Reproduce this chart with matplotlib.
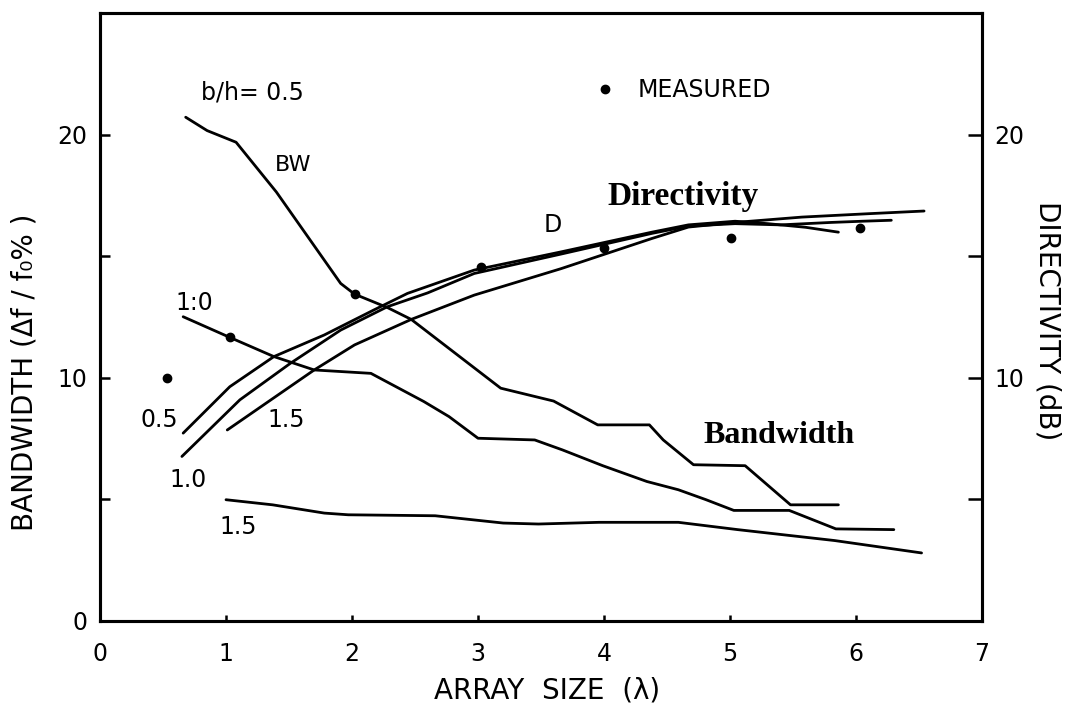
import matplotlib
matplotlib.use("Agg")
import matplotlib.pyplot as plt
from matplotlib.lines import Line2D

# ---- data ----
# Bandwidth (%) vs array size (wavelengths), b/h = 0.5, 1.0, 1.5
bw05_x = [0.68, 0.85, 1.08, 1.40, 1.91, 2.02, 2.28, 2.47, 3.18, 3.60, 3.95, 4.36, 4.47, 4.71, 5.12, 5.48, 5.86]
bw05_y = [20.73, 20.18, 19.70, 17.65, 13.89, 13.45, 12.90, 12.41, 9.58, 9.05, 8.07, 8.07, 7.45, 6.43, 6.39, 4.78, 4.78]

bw10_x = [0.66, 1.03, 1.38, 1.70, 2.15, 2.57, 2.77, 3.00, 3.45, 3.67, 3.99, 4.34, 4.59, 4.81, 5.03, 5.47, 5.84, 6.30]
bw10_y = [12.52, 11.67, 10.88, 10.33, 10.19, 9.03, 8.41, 7.52, 7.45, 7.04, 6.39, 5.74, 5.40, 4.99, 4.55, 4.55, 3.79, 3.76]

bw15_x = [1.00, 1.37, 1.78, 1.97, 2.66, 3.20, 3.48, 3.96, 4.59, 5.06, 5.83, 6.52]
bw15_y = [4.99, 4.78, 4.44, 4.37, 4.33, 4.03, 3.99, 4.06, 4.06, 3.76, 3.31, 2.80]

# Directivity (dB) vs array size, b/h = 0.5, 1.0, 1.5
d05_x = [0.66, 1.03, 1.38, 1.78, 2.17, 2.44, 2.97, 3.66, 4.38, 4.67, 5.04, 5.30, 5.60, 5.86]
d05_y = [7.73, 9.64, 10.88, 11.77, 12.79, 13.48, 14.44, 15.19, 16.00, 16.30, 16.45, 16.35, 16.20, 16.00]

d10_x = [0.65, 1.11, 1.51, 1.91, 2.28, 2.60, 2.97, 3.66, 4.38, 4.67, 5.04, 5.40, 5.80, 6.05, 6.28]
d10_y = [6.77, 9.10, 10.60, 11.97, 12.93, 13.50, 14.30, 15.10, 15.95, 16.25, 16.35, 16.30, 16.40, 16.45, 16.49]

d15_x = [1.01, 1.70, 2.02, 2.47, 2.97, 3.66, 4.38, 4.67, 5.04, 5.57, 6.10, 6.54]
d15_y = [7.86, 10.33, 11.36, 12.41, 13.41, 14.50, 15.74, 16.21, 16.40, 16.62, 16.76, 16.87]

# Measured points
meas_x = [0.53, 1.03, 2.02, 3.02, 4.00, 5.01, 6.03]
meas_y = [10.00, 11.67, 13.45, 14.57, 15.35, 15.74, 16.19]

x_ticks = [0, 1, 2, 3, 4, 5, 6, 7]
x_ticklabels = ["0", "1", "2", "3", "4", "5", "6", "7"]
yl_ticks = [0, 5, 10, 15, 20]
yl_ticklabels = ["0", "", "10", "", "20"]
yr_ticks = [5, 10, 15, 20]
yr_ticklabels = ["", "10", "", "20"]

# ---- figure ----
plt.rcParams["font.family"] = ["DejaVu Sans"]
fig = plt.figure(figsize=(10.65, 7.08), dpi=100)
ax = fig.add_axes([0.0939, 0.1229, 0.8282, 0.8581])
ax2 = ax.twinx()

lw = 2.0
for xs, ys in [(bw05_x, bw05_y), (bw10_x, bw10_y), (bw15_x, bw15_y)]:
    ax.plot(xs, ys, color="black", lw=lw, solid_joinstyle="round", solid_capstyle="round")
for xs, ys in [(d05_x, d05_y), (d10_x, d10_y), (d15_x, d15_y)]:
    ax2.plot(xs, ys, color="black", lw=lw, solid_joinstyle="round", solid_capstyle="round")
ax2.plot(meas_x, meas_y, "o", color="black", ms=6, ls="none")

for a in (ax, ax2):
    a.set_xlim(0, 7)
    a.set_ylim(0, 25)
    for s in a.spines.values():
        s.set_linewidth(2.2)

ax.set_xticks(x_ticks)
ax.set_xticklabels(x_ticklabels)
ax.set_yticks(yl_ticks)
ax.set_yticklabels(yl_ticklabels)
ax2.set_yticks(yr_ticks)
ax2.set_yticklabels(yr_ticklabels)

ax.tick_params(axis="x", direction="in", length=4, width=1.8, pad=15, labelsize=17, top=False)
ax.tick_params(axis="y", direction="in", length=7, width=1.8, pad=9, labelsize=17)
ax2.tick_params(axis="y", direction="in", length=10, width=1.8, pad=9, labelsize=17)

ax.set_xlabel("ARRAY  SIZE  (λ)", fontsize=20, va="center")
ax.xaxis.set_label_coords(0.507, -0.115)
ax.set_ylabel("BANDWIDTH (Δf / f₀% )", fontsize=20, va="center", ha="center")
ax.yaxis.set_label_coords(-0.086, 0.41)
ax2.set_ylabel("DIRECTIVITY (dB)", fontsize=20, rotation=270, va="center", ha="center")
ax2.yaxis.set_label_coords(1.074, 0.494)

# annotations
ax.text(0.80, 21.74, "b/h= 0.5", fontsize=17, ha="left", va="center")
ax.text(1.39, 18.75, "BW", fontsize=16, ha="left", va="center")
ax.text(0.60, 13.08, "1:0", fontsize=17, ha="left", va="center")
ax.text(0.32, 8.27, "0.5", fontsize=17, ha="left", va="center")
ax.text(1.33, 8.27, "1.5", fontsize=17, ha="left", va="center")
ax.text(0.55, 5.81, "1.0", fontsize=17, ha="left", va="center")
ax.text(0.95, 3.88, "1.5", fontsize=17, ha="left", va="center")
ax.text(3.52, 16.30, "D", fontsize=17, ha="left", va="center")
ax.text(4.63, 17.10, "Directivity", fontsize=24, fontweight="bold",
        family="Liberation Serif", ha="center", va="baseline")
ax.text(5.39, 7.33, "Bandwidth", fontsize=23, fontweight="bold",
        family="Liberation Serif", ha="center", va="baseline")

handle = Line2D([], [], marker="o", color="black", ls="none", ms=6)
leg = ax.legend([handle], ["MEASURED"], loc="center left", bbox_to_anchor=(0.559, 0.874),
                frameon=False, fontsize=17, handlelength=1.0, handletextpad=0.9,
                borderpad=0, borderaxespad=0)

fig.savefig("out.png", dpi=100)
